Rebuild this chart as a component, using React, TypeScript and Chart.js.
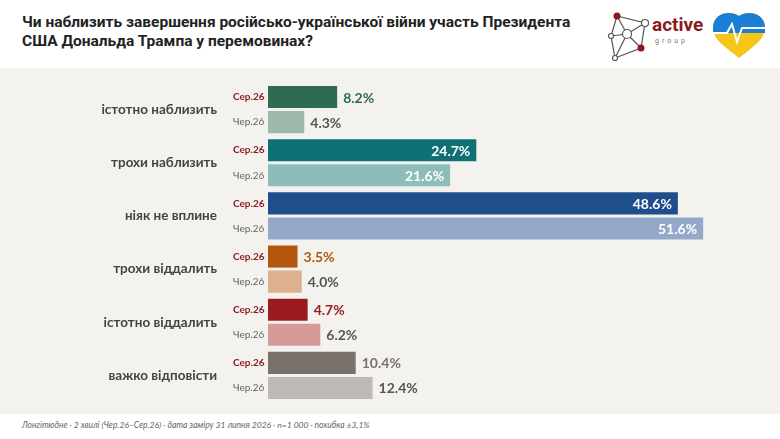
import React, { useEffect, useRef } from "react";
import { Chart, registerables } from "chart.js";

Chart.register(...registerables);

// ---- data ----
const categories = ["істотно наблизить", "трохи наблизить", "ніяк не вплине", "трохи віддалить", "істотно віддалить", "важко відповісти"];
const waveLabels = ["Сер.26", "Чер.26"];
const serValues = [8.2, 24.7, 48.6, 3.5, 4.7, 10.4];
const cherValues = [4.3, 21.6, 51.6, 4.0, 6.2, 12.4];
const serColors = ["#2f6b4f", "#0f7173", "#1f4e8c", "#b5560f", "#9b1c20", "#7a716c"];
const cherColors = ["#9fb8ab", "#8dbdbb", "#94a9c9", "#ddb08f", "#d49a98", "#bfbab5"];

const FONT = "Lato, 'Open Sans', sans-serif";

const labelsPlugin = {
  id: "rowLabels",
  afterDatasetsDraw(chart: any) {
    const { ctx } = chart;
    const y = chart.scales.y;
    ctx.save();
    categories.forEach((c, i) => {
      ctx.font = `bold 13.5px ${FONT}`;
      ctx.fillStyle = "#444";
      ctx.textAlign = "right";
      ctx.textBaseline = "middle";
      ctx.fillText(c, 217, y.getPixelForValue(i));
    });
    chart.data.datasets.forEach((ds: any, di: number) => {
      const meta = chart.getDatasetMeta(di);
      meta.data.forEach((bar: any, i: number) => {
        ctx.textAlign = "left";
        ctx.textBaseline = "middle";
        ctx.font = di === 0 ? `bold 10px ${FONT}` : `10px ${FONT}`;
        ctx.fillStyle = di === 0 ? "#8b1a1f" : "#666";
        ctx.fillText(waveLabels[di], 233, bar.y);
        const v = ds.data[i];
        const txt = v.toFixed(1) + "%";
        ctx.font = `bold 14px ${FONT}`;
        if (v > 20) {
          ctx.textAlign = "right";
          ctx.fillStyle = "#fff";
          ctx.fillText(txt, bar.x - 6, bar.y + 1);
        } else {
          ctx.textAlign = "left";
          ctx.fillStyle = di === 0 ? serColors[i] : "#555";
          ctx.fillText(txt, bar.x + 6, bar.y + 1);
        }
      });
    });
    ctx.restore();
  },
};

const BarChart = () => {
  const canvasRef = useRef<HTMLCanvasElement | null>(null);
  useEffect(() => {
    const ctx = canvasRef.current?.getContext("2d");
    if (!ctx) return;
    const chart = new Chart(ctx, {
      type: "bar",
      data: {
        labels: categories,
        datasets: [
          { label: waveLabels[0], data: serValues, backgroundColor: serColors },
          { label: waveLabels[1], data: cherValues, backgroundColor: cherColors },
        ],
      },
      options: {
        indexAxis: "y",
        animation: false,
        responsive: false,
        categoryPercentage: 0.943,
        barPercentage: 0.88,
        layout: { padding: { left: 268, right: 6, top: 15, bottom: 12 } },
        plugins: { legend: { display: false }, tooltip: { enabled: false } },
        scales: {
          x: { min: 0, max: 60, display: false },
          y: { display: false },
        },
      },
      plugins: [labelsPlugin],
    });
    return () => chart.destroy();
  }, []);
  return <canvas ref={canvasRef} width={780} height={346} style={{ display: "block" }} />;
};

const Logo = () => (
  <svg width="170" height="60" viewBox="0 0 170 60" style={{ position: "absolute", left: 605, top: 6 }}>
    <g stroke="#555" strokeWidth="1.2" fill="none">
      <polyline points="12,10 40,17 36,42 10,52 6,30 12,10" />
      <line x1="12" y1="10" x2="22" y2="28" />
      <line x1="22" y1="28" x2="40" y2="17" />
      <line x1="22" y1="28" x2="36" y2="42" />
      <line x1="22" y1="28" x2="6" y2="30" />
      <line x1="22" y1="28" x2="10" y2="52" />
      <circle cx="22" cy="28" r="4.5" fill="#fff" />
      <circle cx="40" cy="17" r="3.5" fill="#fff" />
      <circle cx="6" cy="30" r="2.5" fill="#fff" />
      <circle cx="10" cy="52" r="2.5" fill="#fff" />
    </g>
    <circle cx="12" cy="10" r="3.5" fill="#8b1a1f" />
    <circle cx="36" cy="42" r="3.5" fill="#8b1a1f" />
    <text x="47" y="25" fontFamily="'Liberation Sans Narrow', Roboto, sans-serif" fontWeight="bold" fontSize="19" fill="#8b1a1f">active</text>
    <text x="50" y="37" fontFamily="Roboto, sans-serif" fontSize="7" fill="#777" letterSpacing="3">group</text>
    <path d="M134 10 C126 4 108 6 108 22 C108 34 122 42 134 52 C146 42 160 34 160 22 C160 6 142 4 134 10 Z" fill="#f5c518" />
    <path d="M134 10 C126 4 108 6 108 22 L108 27 L160 27 L160 22 C160 6 142 4 134 10 Z" fill="#1a7fd4" />
    <polyline points="106,27 122,27 127,18 132,36 137,22 162,22" stroke="#fff" strokeWidth="2" fill="none" />
  </svg>
);

export default function App() {
  useEffect(() => {
    document.body.style.margin = "0";
  }, []);
  return (
    <div style={{ width: 780, height: 439, position: "relative", background: "#fff", overflow: "hidden" }}>
      <div
        style={{
          position: "absolute",
          left: 22,
          top: 13,
          fontFamily: "'Liberation Sans Narrow', Roboto, sans-serif",
          fontWeight: "bold",
          fontSize: 15.5,
          lineHeight: "19px",
          color: "#222",
        }}
      >
        Чи наблизить завершення російсько-української війни участь Президента
        <br />
        США Дональда Трампа у перемовинах?
      </div>
      <Logo />
      <div style={{ position: "absolute", top: 68, left: 0, width: 780, height: 346, background: "#f4f2ef" }}>
        <BarChart />
      </div>
      <div
        style={{
          position: "absolute",
          left: 22,
          top: 420,
          fontFamily: FONT,
          fontStyle: "italic",
          fontSize: 8.5,
          color: "#666",
        }}
      >
        Лонгітюдне · 2 хвилі (Чер.26–Сер.26) · дата заміру 31 липня 2026 · n=1 000 · похибка ±3,1%
      </div>
    </div>
  );
}
